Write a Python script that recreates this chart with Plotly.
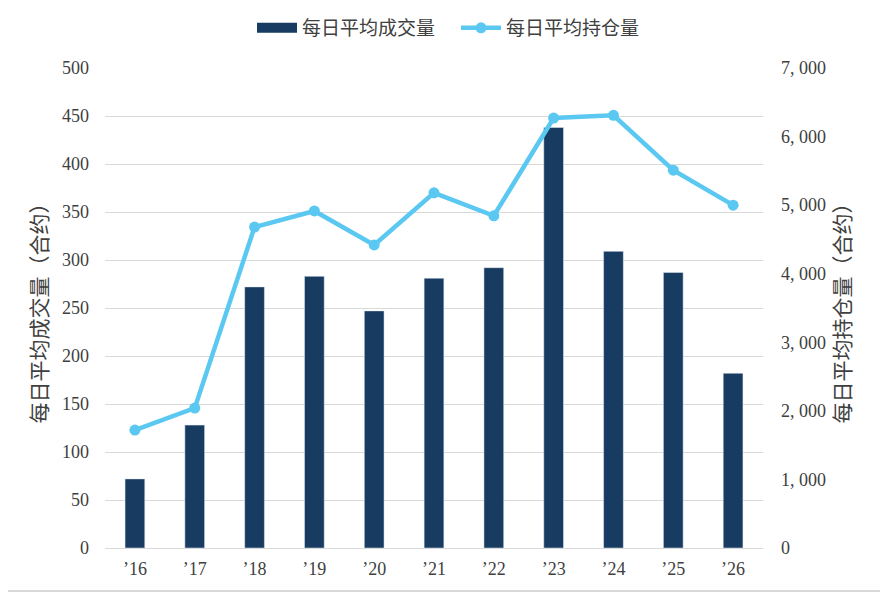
import plotly.graph_objects as go

# chart data
years = ["’16", "’17", "’18", "’19", "’20", "’21", "’22", "’23", "’24", "’25", "’26"]
avg_volume = [72, 128, 272, 283, 247, 281, 292, 438, 309, 287, 182]
avg_open_interest = [1720, 2040, 4680, 4915, 4420, 5180, 4845, 6270, 6310, 5510, 5000]

left_ticks = [0, 50, 100, 150, 200, 250, 300, 350, 400, 450, 500]
right_ticks = [0, 1000, 2000, 3000, 4000, 5000, 6000, 7000]
right_tick_text = ["0", "1, 000", "2, 000", "3, 000", "4, 000", "5, 000", "6, 000", "7, 000"]

# the page body has an 8px margin, so the figure is 8px smaller than the window
W, H = 880, 585
L, R, T, B = 97, 125, 60, 45
pw, ph = W - L - R, H - T - B

BAR_COLOR = "#173B61"
LINE_COLOR = "#5BC8F2"
TEXT_COLOR = "#404040"
GRID_COLOR = "#D9D9D9"

num_font = "Liberation Serif, Noto Sans CJK SC, serif"
cjk_font = "Noto Sans CJK SC, sans-serif"

fig = go.Figure()

fig.add_trace(go.Bar(
    x=years,
    y=avg_volume,
    name="每日平均成交量",
    marker_color=BAR_COLOR,
    width=0.33,
    showlegend=False,
    yaxis="y",
))

# legend-only entry so the bar series gets a wide flat swatch like the original
fig.add_trace(go.Scatter(
    x=[None],
    y=[None],
    name="每日平均成交量",
    mode="lines",
    line=dict(color=BAR_COLOR, width=10),
    hoverinfo="skip",
))

fig.add_trace(go.Scatter(
    x=years,
    y=avg_open_interest,
    name="每日平均持仓量",
    mode="lines+markers",
    line=dict(color=LINE_COLOR, width=4.5),
    marker=dict(color=LINE_COLOR, size=11),
    yaxis="y2",
))

fig.update_layout(
    width=W,
    height=H,
    margin=dict(l=L, r=R, t=T, b=B, autoexpand=False),
    paper_bgcolor="white",
    plot_bgcolor="white",
    font=dict(family=num_font, size=18, color=TEXT_COLOR),
    showlegend=True,
    legend=dict(
        orientation="h",
        x=(456 - 8 - L) / pw,
        xanchor="center",
        y=1 + 40 / ph,
        yanchor="middle",
        font=dict(family=cjk_font, size=19, color=TEXT_COLOR),
        itemwidth=40,
        entrywidth=149,
        entrywidthmode="pixels",
    ),
    xaxis=dict(
        automargin=False,
        range=[-0.5, len(years) - 0.5],
        showgrid=False,
        showline=True,
        linecolor=GRID_COLOR,
        linewidth=1,
        ticks="",
        ticklabelstandoff=4,
        tickfont=dict(family=num_font, size=18, color=TEXT_COLOR),
    ),
    yaxis=dict(
        automargin=False,
        range=[0, 500],
        tickvals=left_ticks,
        showgrid=True,
        gridcolor=GRID_COLOR,
        gridwidth=1.3,
        zeroline=False,
        ticks="",
        ticklabelstandoff=15,
        title=dict(text="每日平均成交量（合约）", font=dict(family=cjk_font, size=21, color=TEXT_COLOR), standoff=8),
    ),
    yaxis2=dict(
        automargin=False,
        range=[0, 7000],
        tickvals=right_ticks,
        ticktext=right_tick_text,
        overlaying="y",
        side="right",
        showgrid=False,
        zeroline=False,
        ticks="",
        ticklabelstandoff=17,
        title=dict(text="每日平均持仓量（合约）", font=dict(family=cjk_font, size=21, color=TEXT_COLOR), standoff=8),
    ),
    shapes=[
        # right and bottom edges of the outer frame
        dict(type="line", xref="paper", yref="paper",
             x0=(W - 2 - L) / pw, x1=(W - 2 - L) / pw,
             y0=-(B - 2) / ph, y1=1 + T / ph,
             line=dict(color=GRID_COLOR, width=2)),
        dict(type="line", xref="paper", yref="paper",
             x0=-L / pw, x1=(W - 2 - L) / pw,
             y0=-(B - 2) / ph, y1=-(B - 2) / ph,
             line=dict(color=GRID_COLOR, width=2)),
    ],
)

fig.write_html("out.html")
